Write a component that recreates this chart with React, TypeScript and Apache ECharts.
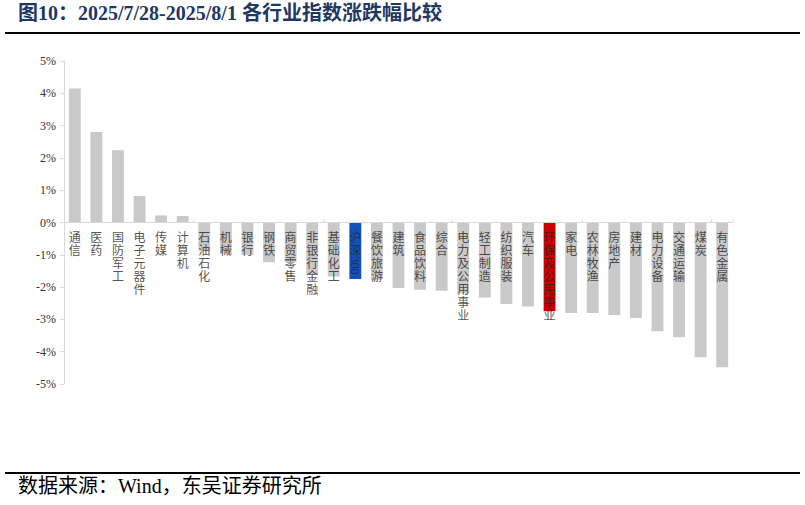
import React, { useEffect, useRef } from "react";
import * as echarts from "echarts";

const categories = [
  "通信", "医药", "国防军工", "电子元器件", "传媒", "计算机", "石油石化", "机械",
  "银行", "钢铁", "商贸零售", "非银行金融", "基础化工", "沪深300", "餐饮旅游", "建筑",
  "食品饮料", "综合", "电力及公用事业", "轻工制造", "纺织服装", "汽车", "环保及公用事业",
  "家电", "农林牧渔", "房地产", "建材", "电力设备", "交通运输", "煤炭", "有色金属",
];

const values = [
  4.15, 2.8, 2.24, 0.82, 0.22, 0.2, -0.88, -0.96,
  -1.0, -1.23, -1.22, -1.6, -1.67, -1.75, -1.77, -2.03,
  -2.08, -2.11, -2.2, -2.32, -2.52, -2.6, -2.75,
  -2.8, -2.8, -2.86, -2.96, -3.37, -3.55, -4.17, -4.48,
];

const benchmarkName = "沪深300";
const highlightName = "环保及公用事业";

const yTicks = [-5, -4, -3, -2, -1, 0, 1, 2, 3, 4, 5];

const titleText = "图10：2025/7/28-2025/8/1 各行业指数涨跌幅比较";
const sourceText = "数据来源：Wind，东吴证券研究所";

const GRAY = "#C9C9C9";
const BLUE = "#1152B8";
const RED = "#CC0000";
const LABEL_COLOR = "#262626";

export default function App() {
  const ref = useRef<HTMLDivElement>(null);

  useEffect(() => {
    if (!ref.current) return;
    const chart = echarts.init(ref.current, undefined, { renderer: "svg" });

    const data = values.map((v, i) => {
      const name = categories[i];
      let color = GRAY;
      if (name === benchmarkName) color = BLUE;
      if (name === highlightName) color = RED;
      return { value: v, itemStyle: { color } };
    });

    const cjkPart = (name: string) => name.replace(/[0-9]+$/, "");
    const digitPart = (name: string) => {
      const m = name.match(/[0-9]+$/);
      return m ? m[0] : "";
    };

    const labelPoints = categories.map((c) => [c, 0]);
    const digitPoints = categories
      .map((c) => (digitPart(c) ? [c, 0] : null))
      .filter((p) => p !== null);

    chart.setOption({
      animation: false,
      backgroundColor: "#ffffff",
      grid: { left: 64, right: 72, top: 61, bottom: 121, containLabel: false },
      xAxis: {
        type: "category",
        data: categories,
        z: 5,
        axisLine: { show: true, onZero: true, lineStyle: { color: "#D9D9D9", width: 1 } },
        axisTick: { show: true, inside: true, length: 3, alignWithLabel: false, lineStyle: { color: "#D9D9D9" } },
        axisLabel: { show: false },
        splitLine: { show: false },
      },
      yAxis: {
        type: "value",
        min: -5,
        max: 5,
        interval: 1,
        axisLine: { show: true, lineStyle: { color: "#D9D9D9", width: 1 } },
        axisTick: { show: true, inside: false, length: 4, lineStyle: { color: "#D9D9D9" } },
        splitLine: { show: false },
        axisLabel: {
          margin: 8,
          fontFamily: "Liberation Serif",
          fontSize: 12,
          color: "#333333",
          formatter: (v: number) => (yTicks.includes(v) ? `${v}%` : ""),
        },
      },
      series: [
        {
          type: "bar",
          data,
          barWidth: "55%",
          z: 2,
        },
        {
          type: "scatter",
          data: labelPoints,
          symbolSize: 0,
          z: 10,
          silent: true,
          label: {
            show: true,
            position: "bottom",
            distance: 7,
            fontFamily: "Noto Sans CJK SC",
            fontSize: 12,
            lineHeight: 13,
            color: LABEL_COLOR,
            formatter: (p: any) => Array.from(cjkPart(categories[p.dataIndex])).join("\n"),
          },
        },
        {
          type: "scatter",
          data: digitPoints,
          symbolSize: 0,
          z: 10,
          silent: true,
          label: {
            show: true,
            position: [0, 34],
            rotate: -90,
            align: "left",
            verticalAlign: "middle",
            fontFamily: "Liberation Serif",
            fontSize: 12,
            color: LABEL_COLOR,
            formatter: (p: any) => digitPart(p.name || (p.data && p.data[0]) || ""),
          },
        },
      ],
      graphic: [
        {
          type: "text",
          left: 18,
          top: 3,
          style: {
            text: titleText,
            fontFamily: "Liberation Serif, Noto Sans CJK SC",
            fontWeight: "bold",
            fontSize: 20,
            fill: "#1F3864",
          },
        },
        {
          type: "rect",
          shape: { x: 5, y: 32, width: 795, height: 2 },
          style: { fill: "#000000" },
        },
        {
          type: "rect",
          shape: { x: 5, y: 472, width: 795, height: 2 },
          style: { fill: "#000000" },
        },
        {
          type: "text",
          left: 18,
          top: 476,
          style: {
            text: sourceText,
            fontFamily: "Liberation Serif, Noto Sans CJK SC",
            fontSize: 20,
            fill: "#000000",
          },
        },
      ],
    });

    return () => chart.dispose();
  }, []);

  return (
    <div
      ref={ref}
      style={{ position: "fixed", left: 0, top: 0, width: 805, height: 505, background: "#fff" }}
    />
  );
}
